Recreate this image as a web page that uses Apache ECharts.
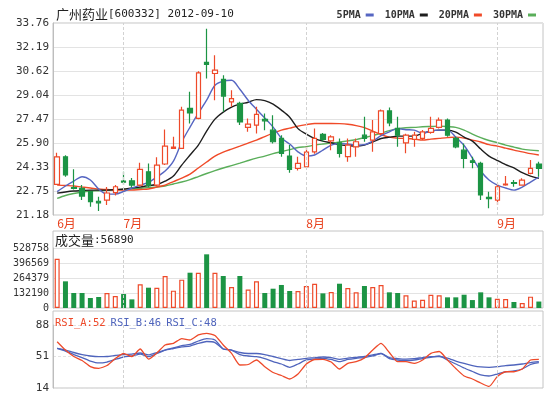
<!DOCTYPE html>
<html lang="zh-CN">
<head>
    <meta charset="UTF-8">
    <title>广州药业[600332] 日K线</title>
    <style>
        html, body { margin: 0; padding: 0; background: #fff; }
        #main { width: 550px; height: 397px; }
    </style>
</head>
<body>
    <div id="main"></div>
    <script src="https://cdn.jsdelivr.net/npm/echarts@6.0.0/dist/echarts.min.js"></script>
    <script type="text/javascript">
        // 交易日 2012-06-19 ~ 2012-09-10
        var dates = [
            '2012-06-19','2012-06-20','2012-06-21','2012-06-25','2012-06-26','2012-06-27','2012-06-28','2012-06-29',
            '2012-07-02','2012-07-03','2012-07-04','2012-07-05','2012-07-06','2012-07-09','2012-07-10','2012-07-11',
            '2012-07-12','2012-07-13','2012-07-16','2012-07-17','2012-07-18','2012-07-19','2012-07-20','2012-07-23',
            '2012-07-24','2012-07-25','2012-07-26','2012-07-27','2012-07-30','2012-07-31',
            '2012-08-01','2012-08-02','2012-08-03','2012-08-06','2012-08-07','2012-08-08','2012-08-09','2012-08-10',
            '2012-08-13','2012-08-14','2012-08-15','2012-08-16','2012-08-17','2012-08-20','2012-08-21','2012-08-22',
            '2012-08-23','2012-08-24','2012-08-27','2012-08-28','2012-08-29','2012-08-30','2012-08-31',
            '2012-09-03','2012-09-04','2012-09-05','2012-09-06','2012-09-07','2012-09-10'
        ];

        var opens = [23.19, 24.99, 22.98, 22.93, 22.71, 22.08, 22.16, 22.64, 23.40, 23.42,
            23.14, 24.01, 23.14, 24.52, 25.54, 25.54, 28.16, 27.51, 31.18, 30.45,
            30.06, 28.59, 28.49, 26.92, 27.07, 27.45, 26.74, 26.20, 25.04, 24.24,
            24.34, 25.32, 26.46, 26.04, 25.91, 25.00, 25.65, 26.41, 26.09, 26.52,
            28.00, 26.85, 25.91, 26.13, 26.20, 26.60, 26.92, 27.40, 26.20, 25.43,
            24.73, 24.56, 22.33, 22.16, 23.16, 23.30, 23.14, 23.91, 24.52];
        var closes = [24.99, 23.80, 22.92, 22.42, 22.05, 21.98, 22.62, 23.03, 23.33, 23.14,
            24.17, 23.11, 24.45, 25.69, 25.63, 28.05, 27.87, 30.49, 31.05, 30.67,
            28.97, 28.81, 27.28, 27.13, 27.77, 27.35, 25.98, 25.22, 24.17, 24.56,
            25.30, 26.20, 26.13, 26.30, 25.22, 25.76, 25.98, 26.20, 26.63, 28.00,
            27.22, 26.41, 26.41, 26.41, 26.63, 26.85, 27.40, 26.41, 25.65, 24.89,
            24.62, 22.49, 22.25, 23.03, 23.20, 23.25, 23.47, 24.24, 24.24];
        var lows = [23.15, 23.69, 22.85, 22.16, 21.72, 21.45, 21.83, 22.45, 23.14, 22.98,
            23.05, 23.00, 23.05, 24.45, 25.50, 25.50, 27.18, 27.45, 30.12, 28.70,
            27.94, 28.27, 27.07, 26.63, 26.52, 26.74, 25.87, 25.00, 23.95, 24.10,
            24.25, 25.20, 26.00, 25.43, 24.95, 24.67, 25.00, 25.98, 25.32, 26.40,
            27.00, 25.65, 25.22, 25.65, 26.10, 26.50, 26.85, 26.30, 25.55, 24.24,
            24.24, 22.16, 21.62, 21.83, 23.10, 23.03, 23.10, 23.85, 23.69];
        var highs = [25.26, 25.10, 24.17, 23.14, 22.75, 22.38, 23.01, 23.14, 24.01, 23.60,
            24.61, 24.56, 24.97, 26.79, 26.30, 28.27, 29.25, 30.60, 33.39, 31.65,
            30.34, 29.36, 28.60, 27.51, 28.27, 27.83, 27.72, 26.41, 25.76, 25.00,
            25.65, 26.85, 26.55, 26.41, 26.20, 26.20, 26.20, 27.61, 27.40, 28.10,
            28.23, 27.61, 26.50, 26.63, 26.75, 27.61, 27.57, 27.50, 26.30, 25.87,
            25.00, 24.67, 22.71, 23.25, 23.73, 23.47, 23.58, 24.78, 24.67];

        var ma5 = [22.71, 23.08, 23.40, 23.69, 23.47, 22.88, 22.55, 22.55, 22.72, 22.95,
            23.14, 23.31, 23.67, 24.06, 24.71, 25.96, 26.94, 27.85, 28.70, 29.68,
            29.95, 30.01, 29.42, 28.70, 28.11, 27.53, 26.94, 26.22, 25.83, 25.32,
            25.04, 25.11, 25.43, 25.76, 25.87, 25.83, 25.76, 25.79, 26.02, 26.38,
            26.63, 26.84, 26.77, 26.74, 26.54, 26.68, 26.74, 26.74, 26.28, 25.73,
            24.91, 24.06, 23.47, 23.14, 22.95, 22.81, 23.01, 23.34, 23.67];
        var ma10 = [22.61, 22.69, 22.75, 22.78, 22.81, 22.81, 22.81, 22.85, 22.88, 22.95,
            23.01, 23.11, 23.18, 23.40, 23.73, 24.45, 25.11, 25.76, 26.68, 27.46,
            27.92, 28.25, 28.44, 28.57, 28.74, 28.67, 28.44, 28.05, 27.59, 26.84,
            26.48, 26.19, 26.02, 25.91, 25.79, 25.73, 25.69, 25.76, 25.96, 26.19,
            26.28, 26.35, 26.35, 26.35, 26.53, 26.68, 26.74, 26.74, 26.61, 26.28,
            26.02, 25.50, 25.04, 24.75, 24.48, 24.26, 23.95, 23.73, 23.58];
        var ma20 = [23.14, 23.11, 23.08, 23.01, 22.95, 22.88, 22.85, 22.81, 22.81, 22.81,
            22.85, 22.88, 23.01, 23.14, 23.37, 23.60, 23.86, 24.26, 24.65, 25.04,
            25.30, 25.50, 25.69, 25.89, 26.09, 26.32, 26.54, 26.74, 26.87, 27.00,
            27.10, 27.18, 27.18, 27.18, 27.17, 27.13, 27.04, 26.90, 26.68, 26.45,
            26.28, 26.22, 26.19, 26.15, 26.09, 26.15, 26.20, 26.25, 26.28, 26.22,
            26.09, 25.96, 25.79, 25.69, 25.56, 25.43, 25.32, 25.20, 25.11];
        var ma30 = [22.27, 22.46, 22.59, 22.69, 22.75, 22.77, 22.80, 22.82, 22.85, 22.88,
            22.93, 22.98, 23.01, 23.08, 23.21, 23.34, 23.50, 23.70, 23.90, 24.09,
            24.26, 24.42, 24.58, 24.75, 24.91, 25.04, 25.20, 25.33, 25.46, 25.60,
            25.66, 25.76, 25.83, 25.89, 25.96, 26.04, 26.12, 26.25, 26.38, 26.54,
            26.71, 26.84, 26.90, 26.92, 26.96, 26.98, 27.00, 26.97, 26.92, 26.74,
            26.48, 26.25, 26.06, 25.92, 25.76, 25.63, 25.50, 25.43, 25.39];

        var volumes = [434000, 235000, 132000, 132000, 88000, 97000, 132000, 106000, 123000, 76000,
            209000, 179000, 179000, 282000, 153000, 250000, 311000, 311000, 473000, 311000,
            282000, 185000, 282000, 162000, 235000, 132000, 170000, 203000, 150000, 150000,
            194000, 214000, 129000, 141000, 214000, 176000, 138000, 194000, 185000, 203000,
            138000, 132000, 112000, 65000, 73000, 117000, 112000, 94000, 94000, 117000,
            70000, 138000, 94000, 82000, 79000, 53000, 44000, 100000, 56890];

        var rsiA = [68.4, 58.6, 51.0, 46.3, 39.2, 37.1, 40.4, 48.6, 54.5, 51.0,
            59.8, 48.0, 55.1, 64.5, 66.5, 72.1, 70.4, 76.3, 78.2, 75.7,
            64.5, 54.7, 41.0, 41.6, 46.9, 39.0, 32.2, 28.7, 24.6, 30.4,
            42.2, 47.5, 47.7, 44.5, 36.3, 43.0, 44.9, 49.2, 58.6, 66.3,
            55.7, 44.9, 44.9, 43.0, 46.9, 54.7, 56.9, 46.9, 36.9, 28.1,
            24.6, 19.9, 15.8, 27.5, 33.1, 33.1, 36.3, 46.9, 47.7];
        var rsiB = [60.6, 57.4, 53.3, 49.8, 45.7, 43.4, 44.5, 47.5, 50.4, 51.6,
            53.9, 50.8, 54.5, 58.6, 61.0, 63.9, 65.1, 69.2, 72.1, 70.4,
            59.8, 58.6, 53.3, 51.6, 50.8, 48.6, 45.1, 42.2, 38.3, 42.2,
            46.9, 48.0, 48.9, 47.5, 44.9, 47.5, 48.9, 49.8, 51.6, 54.5,
            48.6, 46.9, 46.3, 46.9, 48.6, 50.0, 51.6, 46.9, 42.2, 37.5,
            33.4, 29.3, 28.1, 30.4, 33.1, 34.0, 36.3, 41.6, 43.7];
        var rsiC = [60.6, 58.6, 55.7, 53.3, 51.6, 50.8, 51.0, 52.2, 53.3, 53.9,
            55.1, 52.8, 55.7, 58.6, 60.4, 62.2, 63.3, 66.3, 68.6, 67.4,
            59.8, 58.6, 55.7, 54.5, 54.5, 53.3, 51.0, 48.6, 46.3, 47.5,
            48.9, 49.5, 50.4, 49.8, 47.7, 49.2, 50.0, 51.0, 52.8, 54.7,
            49.8, 48.6, 48.0, 48.4, 49.8, 50.8, 50.8, 49.2, 45.7, 42.8,
            40.4, 38.7, 38.3, 39.0, 40.4, 41.0, 42.2, 43.9, 44.9];
        var rsiLast = [52, 46, 48]; // 图上标注的数值

        // 刻度标签
        var priceTicks = ['21.18', '22.75', '24.33', '25.90', '27.47', '29.04', '30.62', '32.19', '33.76'];
        var volTicks = ['0', '132190', '264379', '396569', '528758'];
        var rsiTicks = ['14', '51', '88'];

        var MONO = "'DejaVu Sans Mono', 'Noto Sans CJK SC', monospace";
        var CJK = "'Noto Sans CJK SC', sans-serif";
        var UP = '#ee4a2a', DOWN = '#1c9444';
        var BLUE = '#5666c2', RSI_BLUE = '#4f64bc';
        var GL = 53, GW = 490;

        var myChart = echarts.init(document.getElementById('main'));

        // 每月第一个交易日
        var monthStarts = [];
        dates.forEach(function (d, i) {
            if (i === 0 || d.slice(5, 7) !== dates[i - 1].slice(5, 7)) monthStarts.push(i);
        });

        var candles = dates.map(function (d, i) {
            return [opens[i], closes[i], lows[i], highs[i]];
        });

        var volData = volumes.map(function (v, i) {
            var up = closes[i] >= opens[i];
            return {
                value: v,
                itemStyle: up ? { color: '#fff', borderColor: UP, borderWidth: 1.2 }
                              : { color: DOWN, borderColor: DOWN, borderWidth: 0 }
            };
        });

        var monthLines = function () {
            return {
                silent: true,
                symbol: ['none', 'none'],
                label: { show: false },
                emphasis: { disabled: true },
                animation: false,
                lineStyle: { color: '#d2d2d2', type: [3, 2], width: 1 },
                data: monthStarts.slice(1).map(function (i) { return { xAxis: dates[i] }; })
            };
        };

        var catAxis = function (grid) {
            return {
                type: 'category', gridIndex: grid, data: dates, boundaryGap: true,
                axisLine: { show: false }, axisTick: { show: false }, splitLine: { show: false },
                axisLabel: { show: false }
            };
        };

        var labelAxis = function (grid, ticks, dashed) {
            return {
                type: 'value', gridIndex: grid, position: 'left',
                min: 0, max: ticks.length - 1, interval: 1,
                axisLine: { show: true, lineStyle: { color: '#bdbdbd' } },
                axisTick: { show: false },
                axisLabel: {
                    margin: 4, color: '#333', fontFamily: MONO, fontSize: grid === 1 ? 10 : 11,
                    formatter: function (v) { return ticks[v]; }
                },
                splitLine: { show: true, lineStyle: { color: '#e3e3e3', type: dashed ? [3, 2] : 'solid' } }
            };
        };

        var maLine = function (name, data, color) {
            return {
                name: name, type: 'line', xAxisIndex: 0, yAxisIndex: 0, data: data,
                showSymbol: false, smooth: 0.3, z: 3,
                lineStyle: { color: color, width: 1.4 }, itemStyle: { color: color }
            };
        };

        var xMain = catAxis(0);
        xMain.axisLabel = {
            show: true, margin: 2, align: 'left', color: '#e8401c',
            fontSize: 12, fontFamily: CJK,
            interval: function (i) { return monthStarts.indexOf(i) >= 0; },
            formatter: function (v) { return parseInt(v.slice(5, 7), 10) + '月'; }
        };

        var txt = function (size, color, family) {
            return { fontSize: size, color: color, fontFamily: family, fontWeight: 'normal' };
        };

        var option = {
            animation: false,
            backgroundColor: '#fff',
            title: [{
                text: '{c|广州药业}{m|[600332] 2012-09-10}',
                left: 56, top: 8, padding: 0,
                textStyle: {
                    fontWeight: 'normal',
                    rich: { c: txt(13, '#222', CJK), m: txt(11, '#222', MONO) }
                }
            }, {
                text: '{c|成交量}{m|:' + volumes[volumes.length - 1] + '}',
                left: 55, top: 234, padding: 0,
                textStyle: {
                    fontWeight: 'normal',
                    rich: { c: txt(13, '#222', CJK), m: txt(11, '#222', MONO) }
                }
            }, {
                text: '{a|RSI_A:' + rsiLast[0] + '} {b|RSI_B:' + rsiLast[1] + '} {b|RSI_C:' + rsiLast[2] + '}',
                left: 55, top: 314, padding: 0,
                textStyle: {
                    fontWeight: 'normal',
                    rich: { a: txt(10.5, UP, MONO), b: txt(10.5, RSI_BLUE, MONO) }
                }
            }],
            legend: {
                data: ['5PMA', '10PMA', '20PMA', '30PMA'],
                right: 14, top: 10, padding: 0,
                align: 'right', icon: 'rect', itemWidth: 8, itemHeight: 3, itemGap: 11,
                selectedMode: false,
                textStyle: { fontSize: 10, fontFamily: MONO, fontWeight: 'bold', color: '#333' }
            },
            graphic: [
                { type: 'rect', silent: true, z: 0, shape: { x: GL, y: 231, width: GW, height: 77 },
                  style: { fill: 'none', stroke: '#c4c4c4', lineWidth: 1 } },
                { type: 'rect', silent: true, z: 0, shape: { x: GL, y: 311, width: GW, height: 77 },
                  style: { fill: 'none', stroke: '#c4c4c4', lineWidth: 1 } }
            ],
            grid: [
                { left: GL, top: 23, width: GW, height: 192, show: true, borderColor: '#c4c4c4', borderWidth: 1 },
                { left: GL, top: 248, width: GW, height: 60 },
                { left: GL, top: 325, width: GW, height: 63 }
            ],
            xAxis: [xMain, catAxis(1), catAxis(2)],
            yAxis: [
                { type: 'value', gridIndex: 0, position: 'right', min: 21.18, max: 33.76, show: false },
                labelAxis(0, priceTicks, false),
                { type: 'value', gridIndex: 1, position: 'right', min: 0, max: 528758, show: false },
                labelAxis(1, volTicks, false),
                { type: 'value', gridIndex: 2, position: 'right', min: 14, max: 88, show: false },
                labelAxis(2, rsiTicks, true)
            ],
            series: [
                maLine('30PMA', ma30, '#5aae5a'),
                maLine('20PMA', ma20, '#f04a28'),
                maLine('10PMA', ma10, '#1e1e1e'),
                maLine('5PMA', ma5, BLUE),
                {
                    name: 'K', type: 'candlestick', xAxisIndex: 0, yAxisIndex: 0, data: candles,
                    barWidth: 5, z: 4,
                    itemStyle: { color: '#fff', color0: DOWN, borderColor: UP, borderColor0: DOWN, borderWidth: 1.2 },
                    markLine: monthLines()
                },
                {
                    name: '成交量', type: 'bar', xAxisIndex: 1, yAxisIndex: 2, data: volData,
                    barWidth: 5, markLine: monthLines()
                },
                {
                    name: 'RSI_C', type: 'line', xAxisIndex: 2, yAxisIndex: 4, data: rsiC,
                    showSymbol: false, smooth: 0.2, lineStyle: { color: RSI_BLUE, width: 1.3 }
                },
                {
                    name: 'RSI_B', type: 'line', xAxisIndex: 2, yAxisIndex: 4, data: rsiB,
                    showSymbol: false, smooth: 0.2, lineStyle: { color: RSI_BLUE, width: 1.3 }
                },
                {
                    name: 'RSI_A', type: 'line', xAxisIndex: 2, yAxisIndex: 4, data: rsiA,
                    showSymbol: false, smooth: 0.2, lineStyle: { color: UP, width: 1.3 },
                    markLine: monthLines()
                }
            ]
        };

        myChart.setOption(option);
    </script>
</body>
</html>
